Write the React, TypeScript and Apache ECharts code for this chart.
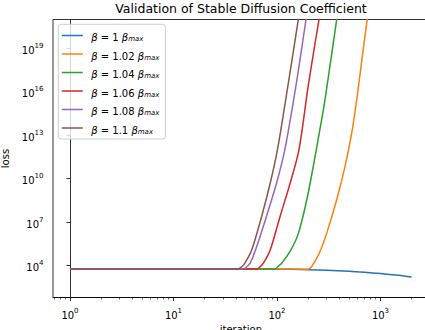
import React, { useEffect, useRef } from 'react';
import * as echarts from 'echarts';

const FONT = 'DejaVu Sans';
const titleText = 'Validation of Stable Diffusion Coefficient';
const betaCoefs = ['1', '1.02', '1.04', '1.06', '1.08', '1.1'];
const colors = ['#1f77b4', '#ff7f0e', '#2ca02c', '#d62728', '#9467bd', '#8c564b'];

// iterations and loss values per series
const blueIter = [1, 10, 50, 100, 200, 300, 500, 700, 1000, 1500, 2000];
const blueLoss = [5900, 5900, 5900, 5820, 5370, 4900, 4170, 3550, 2880, 2190, 1660];

const orangeIter = [1, 10, 100, 200, 216, 256, 302, 377, 454, 527, 589, 746, 834];
const orangeLoss = [5900, 5900, 5900, 5800, 8500, 7.2e4, 1.7e6, 3.4e8, 6.8e10, 1.35e13, 2.7e15, 1e21, 1e23];

const greenIter = [1, 10, 96, 101.6, 111, 136, 161, 194, 224, 256, 291, 378, 414];
const greenLoss = [5900, 5900, 5900, 8500, 1.5e4, 1.2e5, 1.7e6, 3.4e8, 6.8e10, 1.35e13, 2.7e15, 1e21, 1e23];

const redIter = [1, 10, 64, 68.5, 74, 86, 107, 134, 163, 201, 255, 282];
const redLoss = [5900, 5900, 5900, 8500, 1.5e4, 1.2e5, 2.4e7, 4.8e9, 9.5e11, 2.9e16, 1e21, 1e23];

const purpleIter = [1, 10, 47, 51, 55, 62, 79, 99, 119, 153, 191, 210];
const purpleLoss = [5900, 5900, 5900, 8500, 1.5e4, 1.2e5, 2.4e7, 4.8e9, 9.5e11, 2.9e16, 1e21, 1e23];

const brownIter = [1, 10, 42, 45.6, 49, 57, 71, 86, 101, 128, 161, 177];
const brownLoss = [5900, 5900, 5900, 8500, 1.5e4, 1.2e5, 2.4e7, 4.8e9, 9.5e11, 2.9e16, 1e21, 1e23];

const seriesIters = [blueIter, orangeIter, greenIter, redIter, purpleIter, brownIter];
const seriesLosses = [blueLoss, orangeLoss, greenLoss, redLoss, purpleLoss, brownLoss];

// tick exponents
const xTickExps = [0, 1, 2, 3];
const yTickExps = [4, 7, 10, 13, 16, 19];

const X_MIN = -0.164;
const X_MAX = 3.466;
const Y_MIN = 1.81;
const Y_MAX = 20.97;

const minorX: number[] = [];
for (let n = -1; n <= 3; n++) {
  for (let k = 2; k <= 9; k++) {
    const v = n + Math.log10(k);
    if (v > X_MIN && v < X_MAX) minorX.push(v);
  }
}

const seriesName = (c: string) => `β = ${c} β_max`;

const tickRich = {
  b: { fontSize: 10, lineHeight: 14, verticalAlign: 'bottom', fontFamily: FONT, color: '#000' },
  s: { fontSize: 7, lineHeight: 8, padding: [0, 0, 6, 0], verticalAlign: 'bottom', fontFamily: FONT, color: '#000' },
};
const powFmt = (v: number) => `{b|10}{s|${Math.round(v)}}`;

export default function App() {
  const ref = useRef<HTMLDivElement>(null);
  useEffect(() => {
    if (!ref.current) return;
    const chart = echarts.init(ref.current, null, { renderer: 'svg' });
    const names = betaCoefs.map(seriesName);
    chart.setOption({
      animation: false,
      backgroundColor: '#fff',
      grid: {
        left: 53,
        top: 19.5,
        right: -3.7,
        bottom: 32.5,
        containLabel: false,
        outerBoundsMode: 'none',
        show: true,
        borderColor: '#000',
        borderWidth: 0.8,
        backgroundColor: 'transparent',
      },
      graphic: [
        {
          type: 'text',
          x: 241,
          y: 8.3,
          style: {
            text: titleText,
            align: 'center',
            verticalAlign: 'middle',
            fontSize: 12.5,
            fontFamily: FONT,
            fill: '#000',
          },
        },
      ],
      legend: {
        orient: 'vertical',
        left: 58.3,
        top: 24.3,
        itemWidth: 21,
        itemHeight: 1.5,
        itemGap: 4.5,
        icon: 'rect',
        padding: [4.2, 6, 4, 3.5],
        backgroundColor: 'rgba(255,255,255,0.8)',
        borderColor: '#cccccc',
        borderWidth: 1,
        borderRadius: 3,
        data: names,
        formatter: (name: string) => {
          const idx = names.indexOf(name);
          const c = betaCoefs[idx];
          return `{i0|β}{t| = ${c} }{i|β}{sub|max}`;
        },
        textStyle: {
          fontSize: 10,
          lineHeight: 14,
          color: '#000',
          fontFamily: FONT,
          rich: {
            i0: { fontSize: 10, lineHeight: 14, fontStyle: 'italic', fontFamily: FONT, color: '#000', padding: [0, 0, 0, 3.4], verticalAlign: 'bottom' },
            t: { fontSize: 10, lineHeight: 14, fontFamily: FONT, color: '#000', verticalAlign: 'bottom' },
            i: { fontSize: 10, lineHeight: 14, fontStyle: 'italic', fontFamily: FONT, color: '#000', verticalAlign: 'bottom' },
            sub: { fontSize: 7, lineHeight: 8, fontStyle: 'italic', fontFamily: FONT, color: '#000', padding: [6, 0, 0, 0], verticalAlign: 'bottom' },
          },
        },
      },
      xAxis: [
        {
          type: 'value',
          min: X_MIN,
          max: X_MAX,
          axisLine: { show: true, lineStyle: { color: '#000', width: 0.8 } },
          axisTick: { show: true, customValues: xTickExps, length: 3.5, lineStyle: { color: '#000', width: 0.8 } },
          axisLabel: { show: true, customValues: xTickExps, formatter: powFmt, margin: 8.5, rich: tickRich },
          splitLine: { show: false },
          name: 'iteration',
          nameLocation: 'middle',
          nameGap: 24,
          nameTextStyle: { fontSize: 10, color: '#000', fontFamily: FONT },
        },
        {
          type: 'value',
          min: X_MIN,
          max: X_MAX,
          position: 'bottom',
          axisLine: { show: false },
          axisTick: { show: true, customValues: minorX, length: 2, lineStyle: { color: '#000', width: 0.6 } },
          axisLabel: { show: false },
          splitLine: { show: false },
        },
      ],
      yAxis: {
        type: 'value',
        min: Y_MIN,
        max: Y_MAX,
        axisLine: { show: true, lineStyle: { color: '#000', width: 0.8 } },
        axisTick: { show: true, customValues: yTickExps, length: 3.5, lineStyle: { color: '#000', width: 0.8 } },
        axisLabel: { show: true, customValues: yTickExps, formatter: powFmt, margin: 9.5, rich: tickRich },
        splitLine: { show: false },
        name: 'loss',
        nameLocation: 'middle',
        nameGap: 32,
        nameRotate: 90,
        nameTextStyle: { fontSize: 10, color: '#000', fontFamily: FONT },
      },
      series: names.map((name, si) => ({
        type: 'line',
        name,
        xAxisIndex: 0,
        data: seriesIters[si].map((x, i) => [Math.log10(x), Math.log10(seriesLosses[si][i])]),
        symbol: 'none',
        showSymbol: false,
        smooth: 0.3,
        clip: true,
        lineStyle: { width: 1.5, color: colors[si] },
        itemStyle: { color: colors[si] },
        emphasis: { disabled: true },
      })),
    });
    return () => chart.dispose();
  }, []);
  return (
    <div
      ref={ref}
      style={{ position: 'absolute', left: 0, top: 0, width: 425, height: 330 }}
    />
  );
}
